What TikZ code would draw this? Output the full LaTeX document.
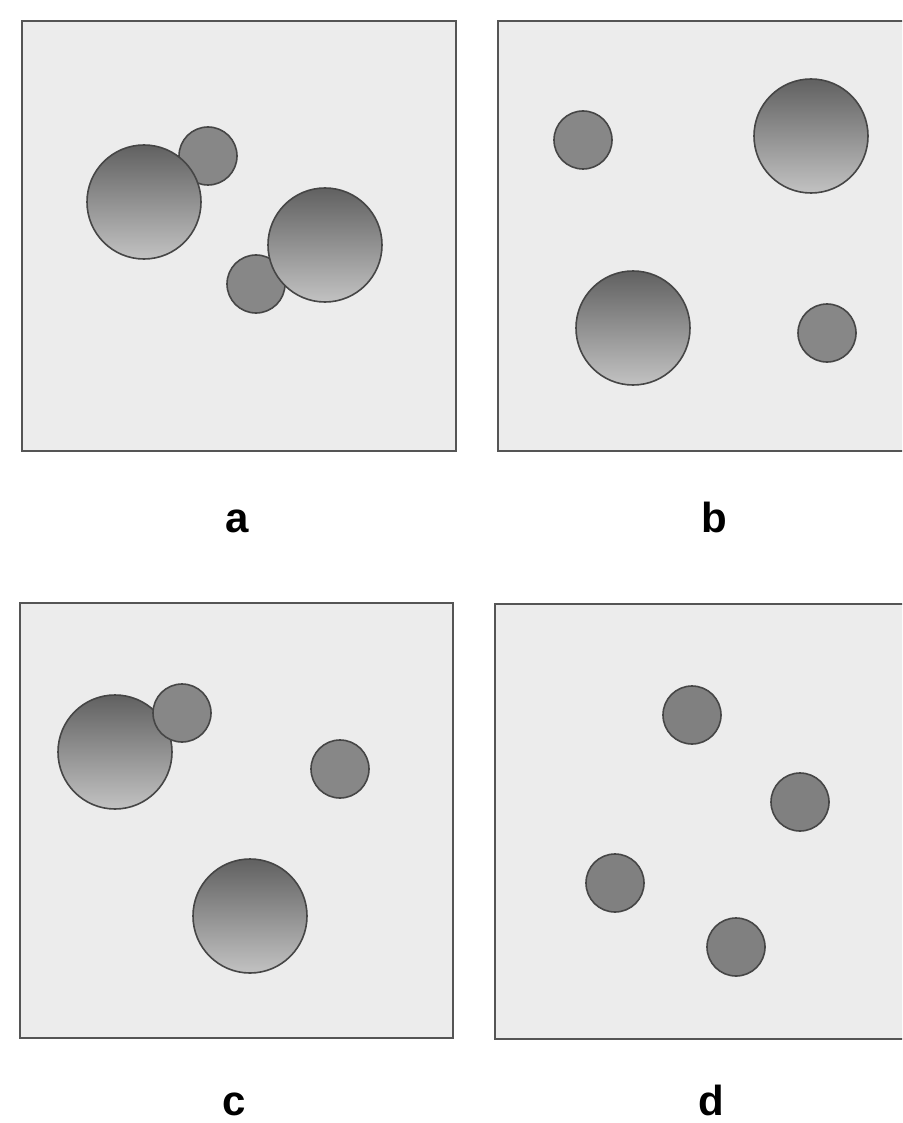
\documentclass[tikz,border=0pt]{standalone}
\usepackage{fontspec}
\setmainfont{Liberation Sans}
\usepackage{tikz}
\definecolor{paper}{HTML}{ECECEC}
\definecolor{frame}{HTML}{555555}
\definecolor{rim}{HTML}{464646}

\begin{document}
\begin{tikzpicture}[x=1pt,y=-1pt,
  panel/.style={draw=frame,line width=1.8pt,fill=paper},
  big/.style={circle,draw=rim,line width=1.6pt,inner sep=0pt,minimum size=114pt,top color=black!62,bottom color=black!24},
  small/.style={circle,draw=rim,line width=1.6pt,inner sep=0pt,minimum size=58pt,fill=black!47},
  tag/.style={anchor=base,font=\fontsize{42}{42}\selectfont\bfseries}]
\useasboundingbox (0,0) rectangle (902,1123);
\clip (0,0) rectangle (902,1123);
% panels
\draw[panel] (22,21) rectangle (456,451);
\draw[panel] (498,21) rectangle (940,451);
\draw[panel] (20,603) rectangle (453,1038);
\draw[panel] (495,604) rectangle (940,1039);
% a
\node[small] (a1) at (208,156){};
\node[big] (a2) at (144,202){};
\node[small] (a3) at (256,284){};
\node[big] (a4) at (325,245){};
% b
\node[small] (b1) at (583,140){};
\node[big] (b2) at (811,136){};
\node[big] (b3) at (633,328){};
\node[small] (b4) at (827,333){};
% c
\node[big] (c1) at (115,752){};
\node[small] (c2) at (182,713){};
\node[small] (c3) at (340,769){};
\node[big] (c4) at (250,916){};
% d
\foreach\x/\y[count=\i] in{692/715,800/802,615/883,736/947}{
    \node[small,fill=black!50] (d\i) at(\x,\y){};
}
% labels
\node[tag] (la) at (237,532) {a};
\node[tag] (lb) at (714,532) {b};
\node[tag] (lc) at (234,1115) {c};
\node[tag] (ld) at (711,1115) {d};
\end{tikzpicture}
\end{document}
